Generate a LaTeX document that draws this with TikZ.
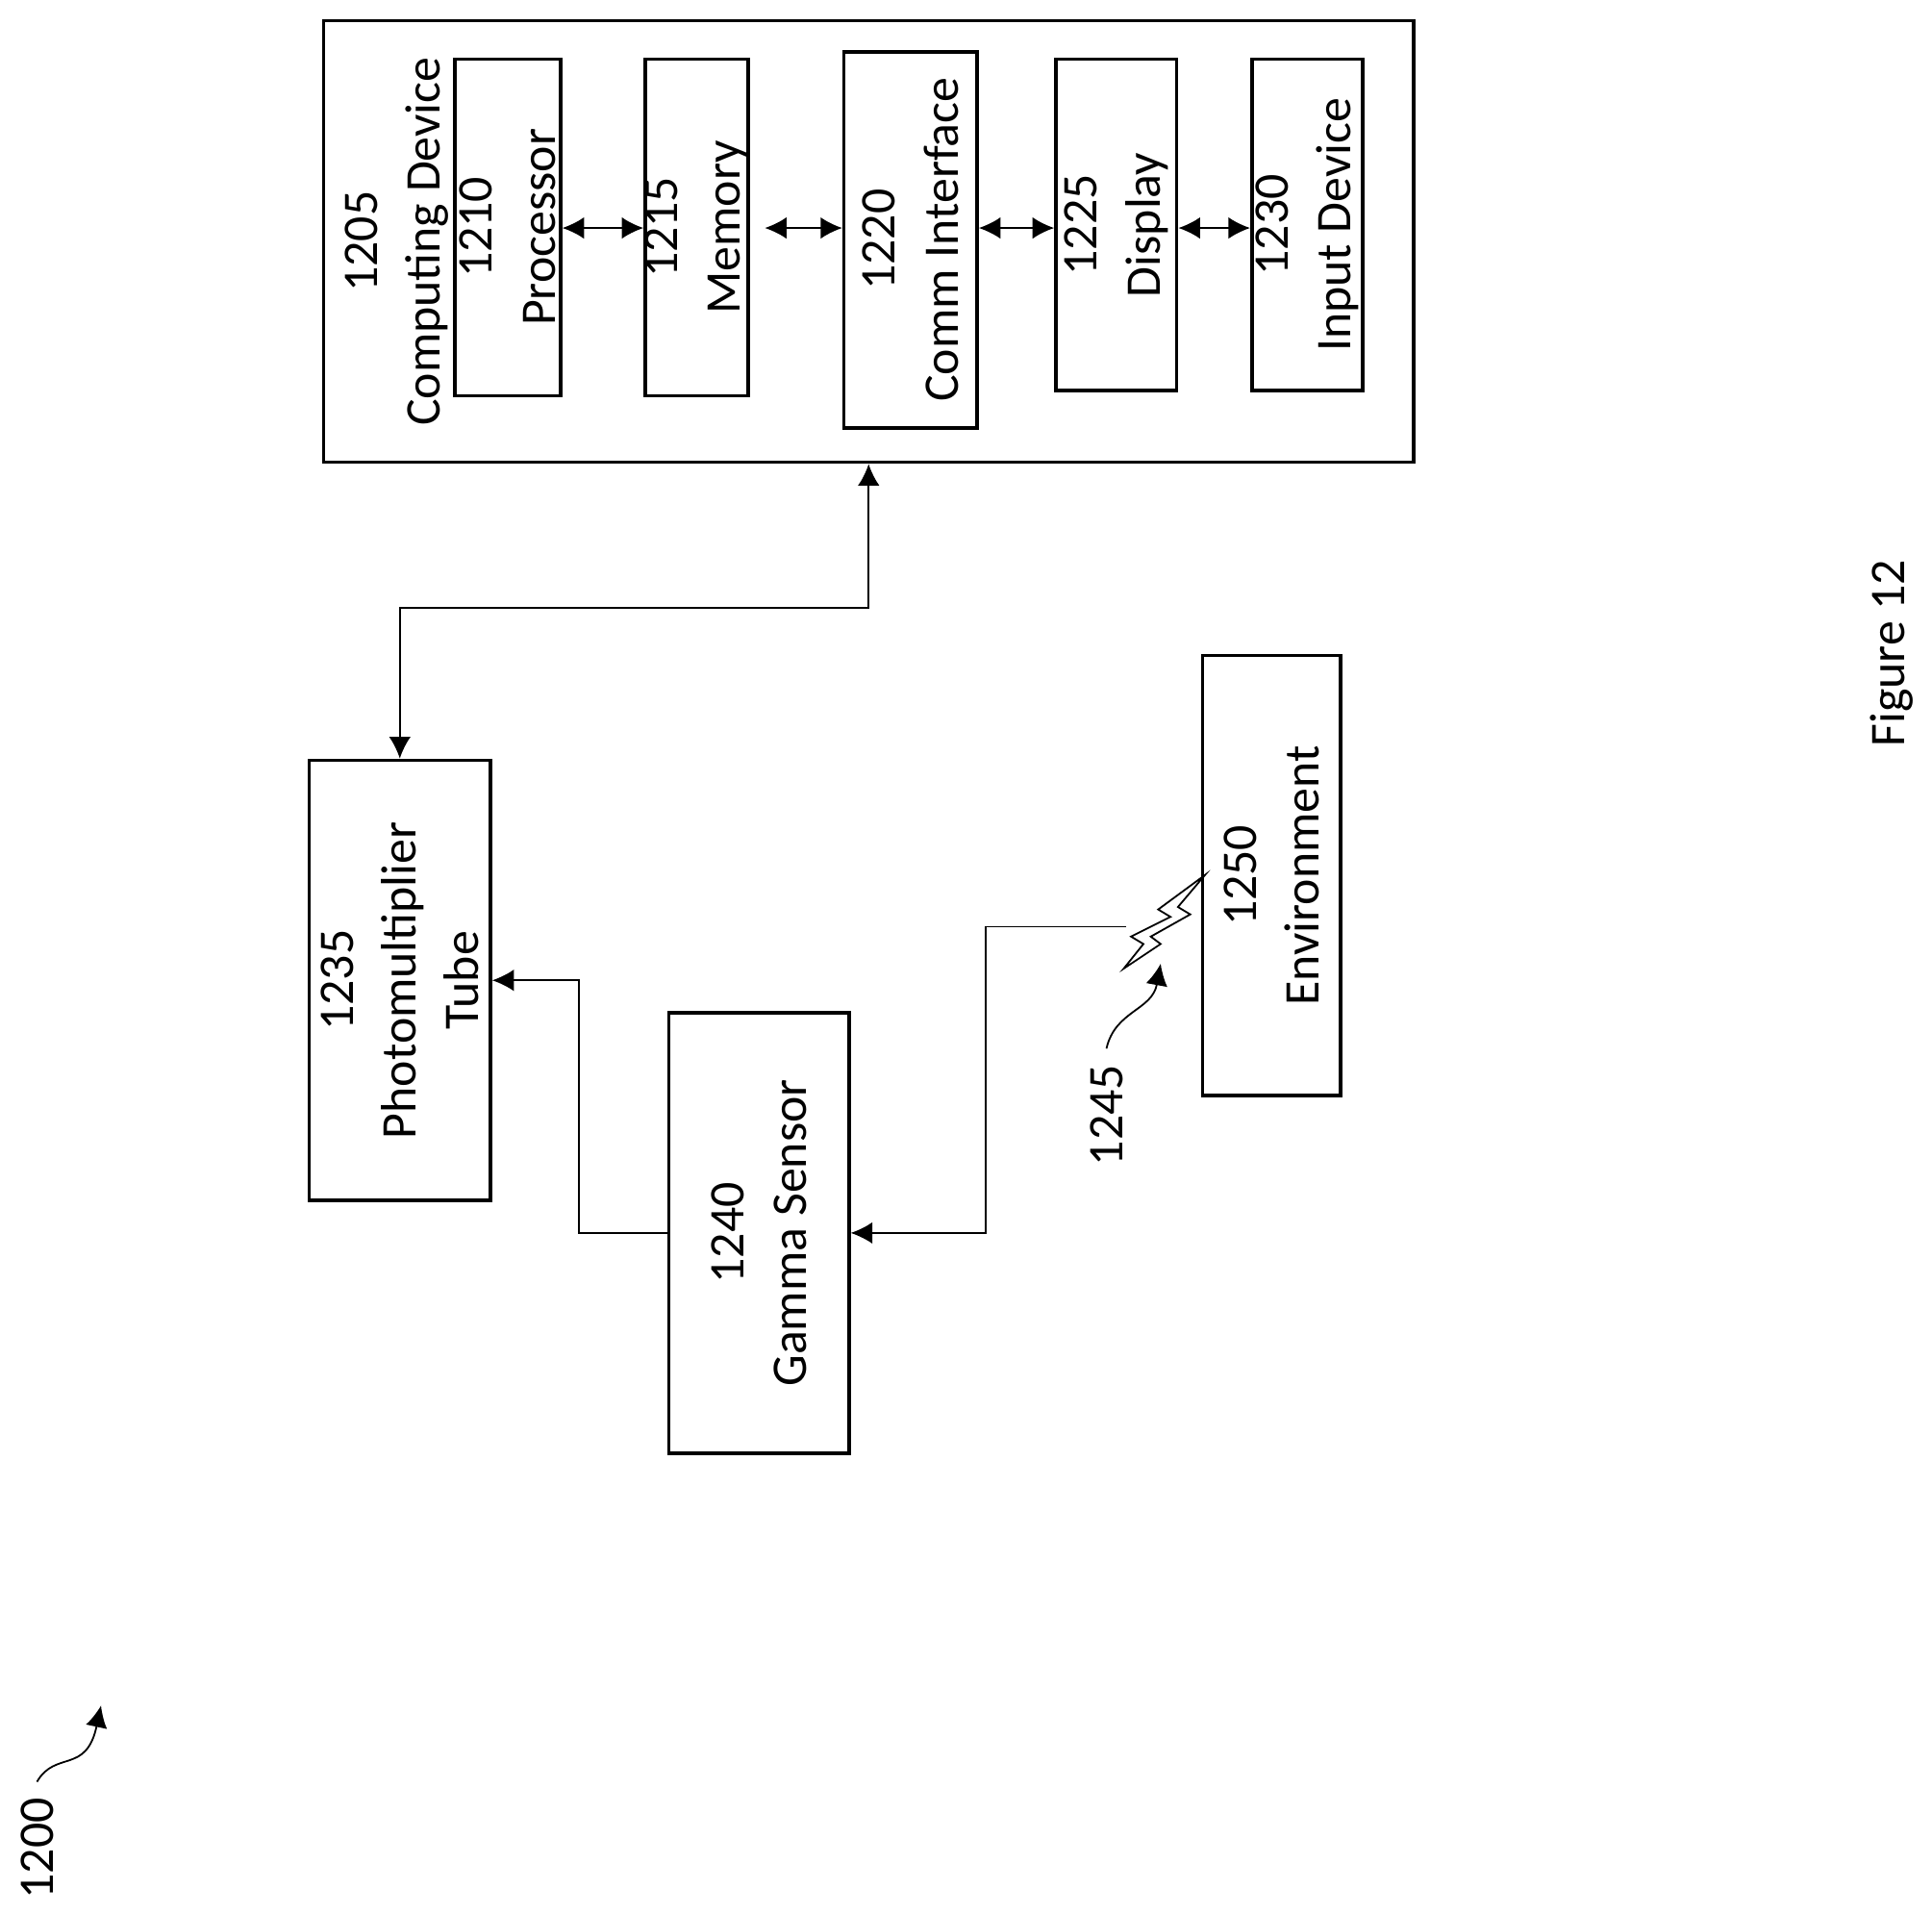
\documentclass[tikz,border=0pt]{standalone}
\usepackage{fontspec}
\setmainfont{Carlito}
\usetikzlibrary{arrows.meta}
\begin{document}
\begin{tikzpicture}[x=0.01cm,y=-0.01cm,thick,
  box/.style={draw,rotate=90,align=center,inner sep=0pt,font=\fontsize{11.5}{14.5}\selectfont},
  txt/.style={rotate=90,align=center,font=\fontsize{11.5}{14.5}\selectfont},
  arr/.style={-{Latex[length=5pt,width=5pt]},thin},
  dbl/.style={{Latex[length=5pt,width=5pt]}-{Latex[length=5pt,width=5pt]},thin}]
  \useasboundingbox (0,0) rectangle (1568,1553);
  % computing device
  \node[box,minimum width=3.58cm,minimum height=8.84cm] (cd) at (705,196) {};
  \node[txt] (cdl) at (322,196) {1205\\Computing Device};
  \node[box,minimum width=2.73cm,minimum height=0.86cm] (pr) at (412,184.5) {1210\\Processor};
  \node[box,minimum width=2.73cm,minimum height=0.83cm] (me) at (565.5,184.5) {1215\\Memory};
  \node[box,minimum width=3.05cm,minimum height=1.08cm] (ci) at (739,194.5) {1220\\Comm Interface};
  \node[box,minimum width=2.69cm,minimum height=0.98cm] (di) at (906,182.5) {1225\\Display};
  \node[box,minimum width=2.69cm,minimum height=0.90cm] (in) at (1061,182.5) {1230\\Input Device};
  \coordinate (row) at (0,185);
  \draw[dbl] (pr.south |- row) -- (me.north |- row);
  \draw[dbl] ([xshift=0.12cm]me.south |- row) -- (ci.north |- row);
  \draw[dbl] (ci.south |- row) -- (di.north |- row);
  \draw[dbl] (di.south |- row) -- (in.north |- row);
  % sensors
  \node[box,minimum width=3.57cm,minimum height=1.47cm] (pmt) at (324.5,795.5) {1235\\Photomultiplier\\Tube};
  \node[box,minimum width=3.57cm,minimum height=1.46cm] (gs) at (616,1000.5) {1240\\Gamma Sensor};
  \node[box,minimum width=3.57cm,minimum height=1.12cm] (env) at (1032,710.5) {1250\\Environment};
  \draw[dbl] (pmt.east) -- ++(0,-122) -| (cd.west);
  \draw[arr] (gs.north) -- ++(-72,0) |- (pmt.south);
  % radiation
  \draw[thin] (978,710) -- (940,738) -- (950,744) -- (918,760) -- (928,766) -- (912,786)
    -- (942,766) -- (934,760) -- (966,742) -- (956,736) -- cycle;
  \coordinate (bolt) at (914,752);
  \draw[arr] (bolt) -- (800,752) |- (gs.south);
  \node[txt] (rad) at (898,905) {1245};
  \draw[arr] (rad.east) .. controls (905,820) and (935,820) .. (942,782);
  % labels
  \node[txt] (fig) at (30,1500) {1200};
  \draw[arr] (fig.east) .. controls (45,1420) and (70,1440) .. (82,1384);
  \node[txt] (title) at (1535,530) {Figure 12};
\end{tikzpicture}
\end{document}
